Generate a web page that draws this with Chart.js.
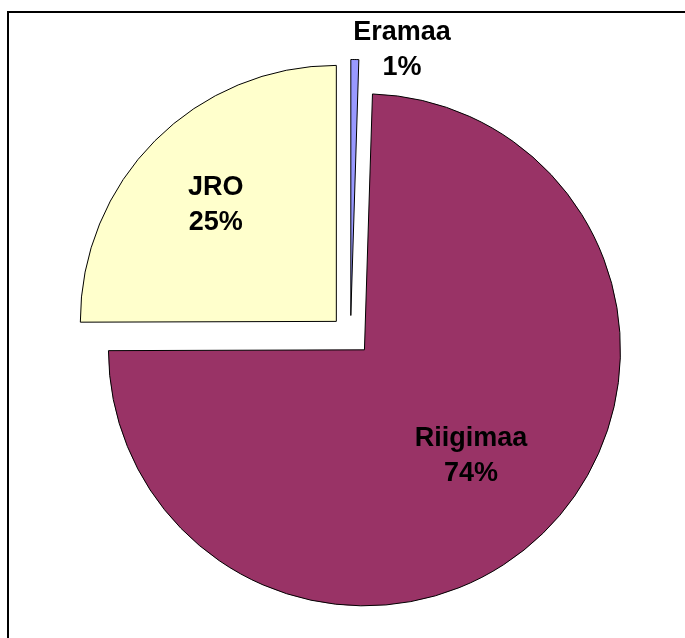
<!DOCTYPE html>
<html>
<head>
<meta charset="utf-8">
<script src="https://cdn.jsdelivr.net/npm/chart.js@4/dist/chart.umd.min.js"></script>
<style>
  html, body { margin: 0; padding: 0; background: #fff; }
  canvas { display: block; }
</style>
</head>
<body>
<canvas id="maaomand" width="685" height="638"></canvas>
<script>
// data
var labels = ["Eramaa", "Riigimaa", "JRO"];
var shares = [0.5, 74.45, 25.05];
var colors = ['#9999FF', '#993366', '#FFFFCC'];

var explode = 20; // px every slice is pulled out
// where each label goes: fraction of radius along the slice middle, plus x/y nudge
var labelPos = [{ k: 1.045, dx: 47, dy: 2 }, { k: 0.58, dx: 3, dy: 0 }, { k: 0.66, dx: -1, dy: 3 }];

var total = shares.reduce(function (a, b) { return a + b; }, 0);

var explodePlugin = {
    id: 'explode',
    afterDatasetsUpdate: function (chart) {
        chart.getDatasetMeta(0).data.forEach(function (arc) {
            var mid = (arc.startAngle + arc.endAngle) / 2;
            arc.x += Math.cos(mid) * explode;
            arc.y += Math.sin(mid) * explode;
        });
    }
};

var framePlugin = {
    id: 'frame',
    beforeDraw: function (chart) {
        var c = chart.ctx;
        c.save();
        c.fillStyle = '#fff';
        c.fillRect(0, 0, chart.width, chart.height);
        c.strokeStyle = '#000';
        c.lineWidth = 2;
        c.strokeRect(8, 12, chart.width + 20, chart.height + 20);
        c.restore();
    }
};

var labelPlugin = {
    id: 'sliceLabels',
    afterDatasetsDraw: function (chart) {
        var c = chart.ctx;
        c.save();
        c.font = 'bold 27px "Liberation Sans", Arial, sans-serif';
        c.fillStyle = '#000';
        c.textAlign = 'center';
        c.textBaseline = 'middle';
        chart.getDatasetMeta(0).data.forEach(function (arc, i) {
            var mid = (arc.startAngle + arc.endAngle) / 2;
            var r = arc.outerRadius * labelPos[i].k;
            var x = arc.x + Math.cos(mid) * r + labelPos[i].dx;
            var y = arc.y + Math.sin(mid) * r + labelPos[i].dy;
            var pct = Math.round(shares[i] / total * 100) + '%';
            c.fillText(labels[i], x, y - 17.5);
            c.fillText(pct, x, y + 17.5);
        });
        c.restore();
    }
};

var ctx = document.getElementById("maaomand").getContext('2d');
var pie = new Chart(ctx, {
    type: 'pie',
    data: {
        labels: labels,
        datasets: [{
            data: shares,
            backgroundColor: colors,
            borderColor: '#000',
            borderWidth: 1
        }]
    },
    options: {
        responsive: false,
        animation: false,
        radius: 256,
        layout: {
            padding: { left: 36, right: 20, top: 53, bottom: 20 }
        },
        plugins: {
            legend: { display: false },
            tooltip: { enabled: false }
        }
    },
    plugins: [framePlugin, explodePlugin, labelPlugin]
});
</script>
</body>
</html>
